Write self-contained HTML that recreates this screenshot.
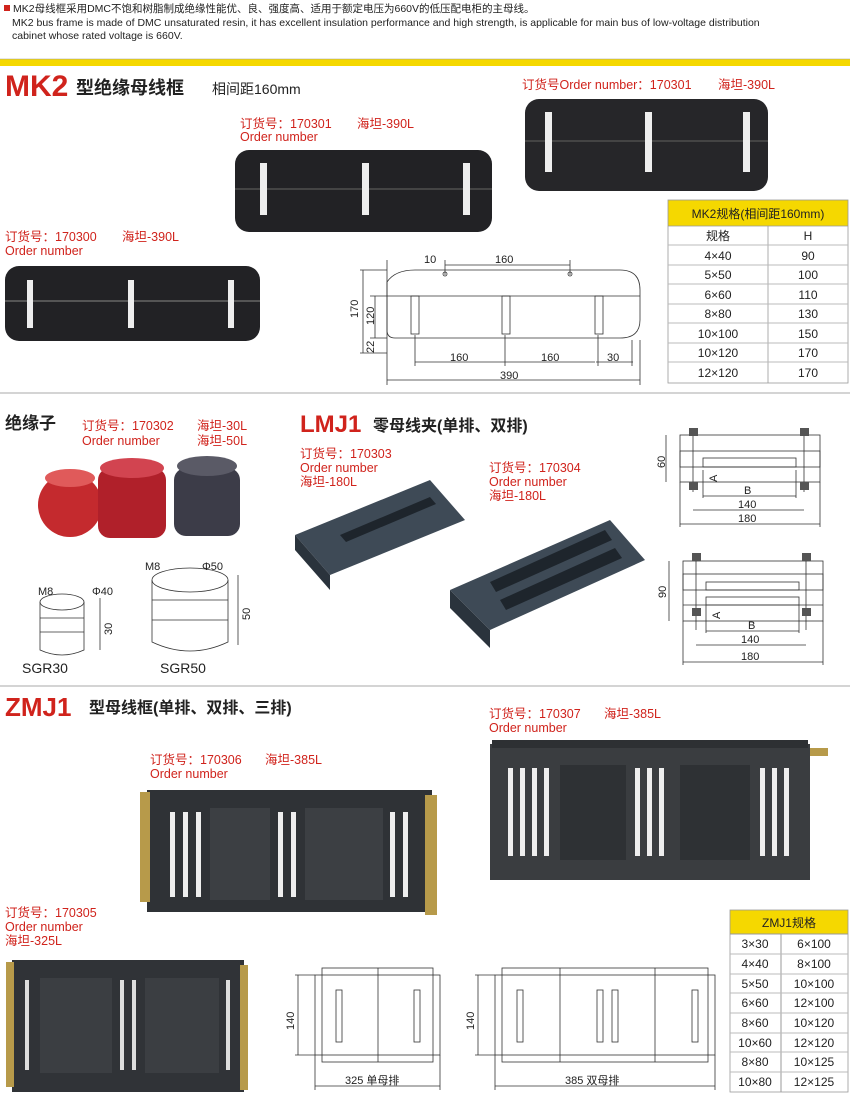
<!DOCTYPE html>
<html><head><meta charset="utf-8"><style>
body{margin:0;background:#fff}
svg{display:block}
text{font-family:"Liberation Sans","Noto Sans CJK SC",sans-serif}
.r{fill:#d0231c}
.k{fill:#222}
.ln{stroke:#333;stroke-width:0.8;fill:none}
.dim{font-size:11px;fill:#222}
</style></head><body>
<svg width="850" height="1116" viewBox="0 0 850 1116" xmlns="http://www.w3.org/2000/svg">
<!-- header text -->
<rect x="4" y="5" width="6" height="6" fill="#d0231c"/>
<text x="13" y="12" font-size="10.5" class="k">MK2母线框采用DMC不饱和树脂制成绝缘性能优、良、强度高、适用于额定电压为660V的低压配电柜的主母线。</text>
<text x="12" y="26" font-size="10.5" class="k">MK2 bus frame is made of DMC unsaturated resin, it has excellent insulation performance and high strength, is applicable for main bus of low-voltage distribution</text>
<text x="12" y="39" font-size="10.5" class="k">cabinet whose rated voltage is 660V.</text>
<rect x="0" y="59" width="850" height="7" fill="#f5d800"/>
<line x1="0" y1="59" x2="850" y2="59" stroke="#999" stroke-width="0.6"/>

<!-- MK2 title -->
<text x="5" y="96" font-size="30" font-weight="bold" class="r">MK2</text>
<text x="76" y="94" font-size="18" font-weight="bold" class="k">型绝缘母线框</text>
<text x="212" y="94" font-size="14" class="k">相间距160mm</text>

<text x="522" y="89" font-size="12.5" class="r">订货号Order number：170301</text>
<text x="718" y="89" font-size="12.5" class="r">海坦-390L</text>
<!-- product 1 -->
<rect x="525" y="99" width="243" height="92" rx="14" fill="#262629"/>
<rect x="525" y="140" width="243" height="2" fill="#444"/>
<rect x="545" y="112" width="7" height="60" fill="#eee"/>
<rect x="645" y="112" width="7" height="60" fill="#eee"/>
<rect x="743" y="112" width="7" height="60" fill="#eee"/>

<text x="240" y="128" font-size="12.5" class="r">订货号：170301</text>
<text x="357" y="128" font-size="12.5" class="r">海坦-390L</text>
<text x="240" y="141" font-size="12.5" class="r">Order number</text>
<!-- product 2 -->
<rect x="235" y="150" width="257" height="82" rx="14" fill="#222225"/>
<rect x="235" y="188" width="257" height="2" fill="#444"/>
<rect x="260" y="163" width="7" height="52" fill="#eee"/>
<rect x="362" y="163" width="7" height="52" fill="#eee"/>
<rect x="463" y="163" width="7" height="52" fill="#eee"/>

<text x="5" y="241" font-size="12.5" class="r">订货号：170300</text>
<text x="122" y="241" font-size="12.5" class="r">海坦-390L</text>
<text x="5" y="255" font-size="12.5" class="r">Order number</text>
<!-- product 3 -->
<rect x="5" y="266" width="255" height="75" rx="14" fill="#222225"/>
<rect x="5" y="300" width="255" height="2" fill="#555"/>
<rect x="27" y="280" width="6" height="48" fill="#eee"/>
<rect x="128" y="280" width="6" height="48" fill="#eee"/>
<rect x="228" y="280" width="6" height="48" fill="#eee"/>

<!-- MK2 drawing -->
<g class="ln">
<path d="M387 282 Q395 270 415 270 L620 270 Q640 270 640 290 L640 320 Q640 338 620 338 L395 338 Q387 338 387 330 Z"/>
<line x1="410" y1="296" x2="640" y2="296"/>
<rect x="411" y="296" width="8" height="38"/>
<rect x="502" y="296" width="8" height="38"/>
<rect x="595" y="296" width="8" height="38"/>
<line x1="387" y1="260" x2="387" y2="385"/>
<line x1="640" y1="340" x2="640" y2="385"/>
<line x1="387" y1="380" x2="640" y2="380"/>
<line x1="415" y1="362" x2="595" y2="362"/>
<line x1="596" y1="362" x2="633" y2="362"/>
<line x1="415" y1="335" x2="415" y2="366"/><line x1="505" y1="335" x2="505" y2="366"/><line x1="598" y1="335" x2="598" y2="366"/><line x1="632" y1="340" x2="632" y2="366"/>
<line x1="445" y1="265" x2="570" y2="265"/>
<line x1="445" y1="260" x2="445" y2="275"/><line x1="570" y1="260" x2="570" y2="275"/>
<line x1="360" y1="270" x2="387" y2="270"/><line x1="360" y1="353" x2="387" y2="353"/>
<line x1="363" y1="270" x2="363" y2="353"/>
<line x1="375" y1="296" x2="375" y2="338"/>
<line x1="370" y1="296" x2="410" y2="296"/><line x1="370" y1="338" x2="387" y2="338"/>
<circle cx="445" cy="274" r="2"/><circle cx="570" cy="274" r="2"/>
</g>
<text x="424" y="263" class="dim">10</text>
<text x="495" y="263" class="dim">160</text>
<text x="450" y="361" class="dim">160</text>
<text x="541" y="361" class="dim">160</text>
<text x="607" y="361" class="dim">30</text>
<text x="500" y="379" class="dim">390</text>
<text x="358" y="318" class="dim" transform="rotate(-90 358 318)">170</text>
<text x="374" y="325" class="dim" transform="rotate(-90 374 325)">120</text>
<text x="374" y="353" class="dim" transform="rotate(-90 374 353)">22</text>

<!-- MK2 table -->
<g>
<rect x="668" y="200" width="180" height="26" fill="#f5d800"/>
<rect x="668" y="200" width="180" height="183" fill="none" stroke="#999" stroke-width="0.8"/>
<line x1="668" y1="226" x2="848" y2="226" stroke="#999" stroke-width="0.8"/>
<line x1="768" y1="226" x2="768" y2="383" stroke="#999" stroke-width="0.8"/>
<line x1="668" y1="245" x2="848" y2="245" stroke="#bbb"/>
<line x1="668" y1="265" x2="848" y2="265" stroke="#bbb"/>
<line x1="668" y1="284" x2="848" y2="284" stroke="#bbb"/>
<line x1="668" y1="304" x2="848" y2="304" stroke="#bbb"/>
<line x1="668" y1="323" x2="848" y2="323" stroke="#bbb"/>
<line x1="668" y1="343" x2="848" y2="343" stroke="#bbb"/>
<line x1="668" y1="362" x2="848" y2="362" stroke="#bbb"/>
<text x="758" y="218" font-size="12" text-anchor="middle" class="k">MK2规格(相间距160mm)</text>
<g font-size="12" text-anchor="middle" font-family="Liberation Serif" fill="#222">
<text x="718" y="240">规格</text><text x="808" y="240" font-family="Liberation Sans">H</text>
<text x="718" y="260">4×40</text><text x="808" y="260">90</text>
<text x="718" y="279">5×50</text><text x="808" y="279">100</text>
<text x="718" y="299">6×60</text><text x="808" y="299">110</text>
<text x="718" y="318">8×80</text><text x="808" y="318">130</text>
<text x="718" y="338">10×100</text><text x="808" y="338">150</text>
<text x="718" y="357">10×120</text><text x="808" y="357">170</text>
<text x="718" y="377">12×120</text><text x="808" y="377">170</text>
</g>
</g>

<line x1="0" y1="393" x2="850" y2="393" stroke="#aaa" stroke-width="1"/>

<!-- insulators -->
<text x="5" y="429" font-size="17" font-weight="bold" class="k">绝缘子</text>
<text x="82" y="430" font-size="12.5" class="r">订货号：170302</text>
<text x="197" y="430" font-size="12.5" class="r">海坦-30L</text>
<text x="82" y="445" font-size="12.5" class="r">Order number</text>
<text x="197" y="445" font-size="12.5" class="r">海坦-50L</text>
<ellipse cx="70" cy="505" rx="32" ry="32" fill="#c42a2e"/>
<ellipse cx="70" cy="478" rx="25" ry="9" fill="#e05a5a"/>
<rect x="98" y="468" width="68" height="70" rx="12" fill="#b0202a"/>
<ellipse cx="132" cy="468" rx="32" ry="10" fill="#d24450"/>
<rect x="174" y="468" width="66" height="68" rx="12" fill="#3c3c48"/>
<ellipse cx="207" cy="466" rx="30" ry="10" fill="#5a5a66"/>

<g class="ln">
<ellipse cx="62" cy="602" rx="22" ry="8"/>
<path d="M40 602 L40 650 Q62 660 84 650 L84 602"/>
<line x1="40" y1="618" x2="84" y2="618"/><line x1="40" y1="632" x2="84" y2="632"/>
<line x1="100" y1="598" x2="100" y2="650"/>
<ellipse cx="190" cy="580" rx="38" ry="12"/>
<path d="M152 580 L152 642 Q190 660 228 642 L228 580"/>
<line x1="152" y1="600" x2="228" y2="600"/><line x1="152" y1="620" x2="228" y2="620"/>
<line x1="238" y1="575" x2="238" y2="645"/>
</g>
<text x="38" y="595" class="dim">M8</text><text x="92" y="595" class="dim">Φ40</text>
<text x="145" y="570" class="dim">M8</text><text x="202" y="570" class="dim">Φ50</text>
<text x="112" y="635" class="dim" transform="rotate(-90 112 635)">30</text>
<text x="250" y="620" class="dim" transform="rotate(-90 250 620)">50</text>
<text x="22" y="673" font-size="14" class="k">SGR30</text>
<text x="160" y="673" font-size="14" class="k">SGR50</text>

<!-- LMJ1 -->
<text x="300" y="432" font-size="24" font-weight="bold" class="r">LMJ1</text>
<text x="373" y="431" font-size="16" font-weight="bold" class="k">零母线夹(单排、双排)</text>
<text x="300" y="458" font-size="12.5" class="r">订货号：170303</text>
<text x="300" y="472" font-size="12.5" class="r">Order number</text>
<text x="300" y="486" font-size="12.5" class="r">海坦-180L</text>
<text x="489" y="472" font-size="12.5" class="r">订货号：170304</text>
<text x="489" y="486" font-size="12.5" class="r">Order number</text>
<text x="489" y="500" font-size="12.5" class="r">海坦-180L</text>
<polygon points="295,535 430,480 465,520 330,575" fill="#3e4a56"/>
<polygon points="295,535 330,575 330,590 295,550" fill="#2a333c"/>
<polygon points="340,535 430,497 436,504 346,542" fill="#1e252c"/>
<polygon points="450,590 610,520 645,560 490,630" fill="#3e4a56"/>
<polygon points="450,590 490,630 490,648 450,608" fill="#2a333c"/>
<polygon points="490,582 605,530 612,540 496,592" fill="#1e252c"/>
<polygon points="500,600 615,548 622,558 506,610" fill="#1e252c"/>

<g class="ln">
<rect x="680" y="435" width="140" height="47"/>
<rect x="680" y="451" width="140" height="16"/>
<rect x="703" y="458" width="93" height="9"/>
<line x1="693" y1="428" x2="693" y2="492"/><line x1="804" y1="428" x2="804" y2="492"/>
<line x1="666" y1="435" x2="666" y2="482"/>
<line x1="703" y1="470" x2="703" y2="498"/><line x1="796" y1="470" x2="796" y2="498"/>
<line x1="703" y1="496" x2="796" y2="496"/>
<line x1="693" y1="510" x2="804" y2="510"/>
<line x1="680" y1="482" x2="680" y2="527"/><line x1="820" y1="482" x2="820" y2="527"/>
<line x1="680" y1="524" x2="820" y2="524"/>
<rect x="683" y="561" width="140" height="60"/>
<rect x="683" y="574" width="140" height="16"/>
<rect x="706" y="582" width="93" height="8"/>
<rect x="706" y="597" width="93" height="8"/>
<line x1="683" y1="605" x2="823" y2="605"/>
<line x1="696" y1="553" x2="696" y2="630"/><line x1="806" y1="553" x2="806" y2="630"/>
<line x1="669" y1="561" x2="669" y2="621"/>
<line x1="706" y1="605" x2="706" y2="633"/><line x1="799" y1="605" x2="799" y2="633"/>
<line x1="706" y1="631" x2="799" y2="631"/>
<line x1="696" y1="645" x2="806" y2="645"/>
<line x1="683" y1="621" x2="683" y2="665"/><line x1="823" y1="621" x2="823" y2="665"/>
<line x1="683" y1="662" x2="823" y2="662"/>
</g>
<g fill="#555"><rect x="689" y="428" width="9" height="8"/><rect x="800" y="428" width="9" height="8"/><rect x="689" y="482" width="9" height="8"/><rect x="800" y="482" width="9" height="8"/>
<rect x="692" y="553" width="9" height="8"/><rect x="802" y="553" width="9" height="8"/><rect x="692" y="608" width="9" height="8"/><rect x="802" y="608" width="9" height="8"/></g>
<text x="665" y="468" class="dim" transform="rotate(-90 665 468)">60</text>
<text x="717" y="482" class="dim" transform="rotate(-90 717 482)">A</text>
<text x="744" y="494" class="dim" font-size="12">B</text>
<text x="738" y="508" class="dim">140</text>
<text x="738" y="522" class="dim">180</text>
<text x="666" y="598" class="dim" transform="rotate(-90 666 598)">90</text>
<text x="720" y="619" class="dim" transform="rotate(-90 720 619)">A</text>
<text x="748" y="629" class="dim" font-size="12">B</text>
<text x="741" y="643" class="dim">140</text>
<text x="741" y="660" class="dim">180</text>

<line x1="0" y1="686" x2="850" y2="686" stroke="#aaa" stroke-width="1"/>

<!-- ZMJ1 -->
<text x="5" y="716" font-size="26" font-weight="bold" class="r">ZMJ1</text>
<text x="89" y="713" font-size="16" font-weight="bold" class="k">型母线框(单排、双排、三排)</text>
<text x="489" y="718" font-size="12.5" class="r">订货号：170307</text>
<text x="604" y="718" font-size="12.5" class="r">海坦-385L</text>
<text x="489" y="732" font-size="12.5" class="r">Order number</text>
<text x="150" y="764" font-size="12.5" class="r">订货号：170306</text>
<text x="265" y="764" font-size="12.5" class="r">海坦-385L</text>
<text x="150" y="778" font-size="12.5" class="r">Order number</text>
<text x="5" y="917" font-size="12.5" class="r">订货号：170305</text>
<text x="5" y="931" font-size="12.5" class="r">Order number</text>
<text x="5" y="945" font-size="12.5" class="r">海坦-325L</text>

<!-- top right frame -->
<rect x="490" y="744" width="320" height="136" fill="#3a3d40"/>
<rect x="810" y="748" width="18" height="8" fill="#b79a4a"/>
<rect x="492" y="740" width="316" height="8" fill="#2d3033"/>
<g fill="#eee">
<rect x="508" y="768" width="5" height="88"/><rect x="520" y="768" width="5" height="88"/><rect x="532" y="768" width="5" height="88"/><rect x="544" y="768" width="5" height="88"/>
<rect x="635" y="768" width="5" height="88"/><rect x="647" y="768" width="5" height="88"/><rect x="659" y="768" width="5" height="88"/>
<rect x="760" y="768" width="5" height="88"/><rect x="772" y="768" width="5" height="88"/><rect x="784" y="768" width="5" height="88"/>
</g>
<rect x="560" y="765" width="66" height="95" fill="#2e3134"/>
<rect x="680" y="765" width="70" height="95" fill="#2e3134"/>

<!-- middle frame -->
<rect x="147" y="790" width="285" height="122" fill="#2f3236"/>
<rect x="140" y="792" width="10" height="110" fill="#b79a4a"/>
<rect x="425" y="795" width="12" height="120" fill="#b79a4a"/>
<g fill="#eee">
<rect x="170" y="812" width="5" height="85"/><rect x="183" y="812" width="5" height="85"/><rect x="196" y="812" width="5" height="85"/>
<rect x="278" y="812" width="5" height="85"/><rect x="291" y="812" width="5" height="85"/>
<rect x="390" y="812" width="5" height="85"/><rect x="403" y="812" width="5" height="85"/>
</g>
<rect x="210" y="808" width="60" height="92" fill="#3c3f43"/>
<rect x="305" y="808" width="78" height="92" fill="#3c3f43"/>

<!-- bottom left frame -->
<rect x="12" y="960" width="232" height="132" fill="#303337"/>
<rect x="6" y="962" width="8" height="125" fill="#b79a4a"/>
<rect x="240" y="965" width="8" height="125" fill="#b79a4a"/>
<g fill="#ddd">
<rect x="25" y="980" width="4" height="90"/><rect x="120" y="980" width="4" height="90"/><rect x="132" y="980" width="4" height="90"/><rect x="226" y="980" width="4" height="90"/>
</g>
<rect x="40" y="978" width="72" height="95" fill="#3b3e42"/>
<rect x="145" y="978" width="74" height="95" fill="#3b3e42"/>

<!-- ZMJ1 drawings -->
<g class="ln">
<rect x="315" y="975" width="125" height="80"/>
<rect x="322" y="968" width="111" height="94"/>
<line x1="378" y1="968" x2="378" y2="1062"/>
<rect x="336" y="990" width="6" height="52"/><rect x="414" y="990" width="6" height="52"/>
<line x1="295" y1="975" x2="315" y2="975"/><line x1="295" y1="1055" x2="315" y2="1055"/>
<line x1="298" y1="975" x2="298" y2="1055"/>
<line x1="315" y1="1055" x2="315" y2="1090"/><line x1="440" y1="1055" x2="440" y2="1090"/>
<line x1="315" y1="1086" x2="440" y2="1086"/>
<rect x="495" y="975" width="220" height="80"/>
<rect x="502" y="968" width="206" height="94"/>
<line x1="560" y1="968" x2="560" y2="1062"/><line x1="655" y1="968" x2="655" y2="1062"/>
<rect x="517" y="990" width="6" height="52"/><rect x="597" y="990" width="6" height="52"/><rect x="612" y="990" width="6" height="52"/><rect x="692" y="990" width="6" height="52"/>
<line x1="475" y1="975" x2="495" y2="975"/><line x1="475" y1="1055" x2="495" y2="1055"/>
<line x1="478" y1="975" x2="478" y2="1055"/>
<line x1="495" y1="1055" x2="495" y2="1090"/><line x1="715" y1="1055" x2="715" y2="1090"/>
<line x1="495" y1="1086" x2="715" y2="1086"/>
</g>
<text x="294" y="1030" class="dim" transform="rotate(-90 294 1030)">140</text>
<text x="474" y="1030" class="dim" transform="rotate(-90 474 1030)">140</text>
<text x="345" y="1084" class="dim">325 单母排</text>
<text x="565" y="1084" class="dim">385 双母排</text>

<!-- ZMJ1 table -->
<rect x="730" y="910" width="118" height="24" fill="#f5d800"/>
<rect x="730" y="910" width="118" height="182" fill="none" stroke="#999" stroke-width="0.8"/>
<line x1="730" y1="934" x2="848" y2="934" stroke="#999"/>
<line x1="781" y1="934" x2="781" y2="1092" stroke="#999"/>
<g stroke="#bbb"><line x1="730" y1="954" x2="848" y2="954"/><line x1="730" y1="974" x2="848" y2="974"/><line x1="730" y1="993" x2="848" y2="993"/><line x1="730" y1="1013" x2="848" y2="1013"/><line x1="730" y1="1033" x2="848" y2="1033"/><line x1="730" y1="1052" x2="848" y2="1052"/><line x1="730" y1="1072" x2="848" y2="1072"/></g>
<text x="789" y="927" font-size="12" text-anchor="middle" class="k">ZMJ1规格</text>
<g font-size="12" text-anchor="middle" font-family="Liberation Serif" fill="#222">
<text x="755" y="948">3×30</text><text x="814" y="948">6×100</text>
<text x="755" y="968">4×40</text><text x="814" y="968">8×100</text>
<text x="755" y="988">5×50</text><text x="814" y="988">10×100</text>
<text x="755" y="1007">6×60</text><text x="814" y="1007">12×100</text>
<text x="755" y="1027">8×60</text><text x="814" y="1027">10×120</text>
<text x="755" y="1047">10×60</text><text x="814" y="1047">12×120</text>
<text x="755" y="1066">8×80</text><text x="814" y="1066">10×125</text>
<text x="755" y="1086">10×80</text><text x="814" y="1086">12×125</text>
</g>
</svg>
</body></html>
